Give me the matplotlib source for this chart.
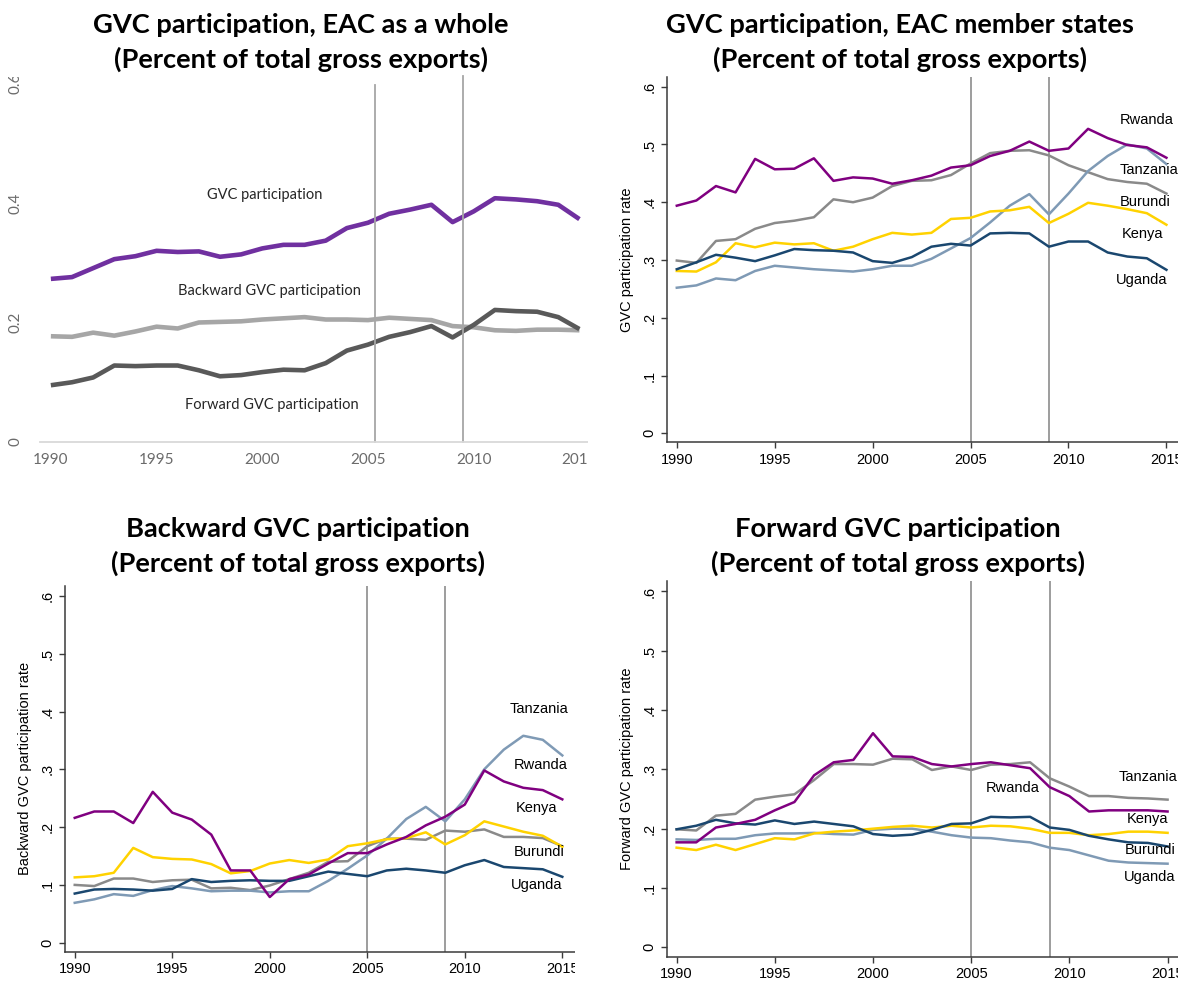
import matplotlib
matplotlib.use("Agg")
import matplotlib.pyplot as plt
from matplotlib.patches import Rectangle

# ----------------------------------------------------------------------
# Data
# ----------------------------------------------------------------------
years = list(range(1990, 2016))

# EAC as a whole
eac_gvc = [0.273, 0.276, 0.291, 0.306, 0.311, 0.320, 0.318, 0.319, 0.310, 0.314,
           0.324, 0.330, 0.330, 0.337, 0.358, 0.367, 0.382, 0.389, 0.397, 0.368,
           0.386, 0.408, 0.406, 0.403, 0.397, 0.373]
eac_backward = [0.177, 0.176, 0.183, 0.178, 0.185, 0.193, 0.190, 0.200, 0.201, 0.202,
                0.205, 0.207, 0.209, 0.205, 0.205, 0.204, 0.208, 0.206, 0.204, 0.194,
                0.192, 0.187, 0.186, 0.188, 0.188, 0.187]
eac_forward = [0.095, 0.100, 0.108, 0.128, 0.127, 0.128, 0.128, 0.120, 0.110, 0.112,
               0.117, 0.121, 0.120, 0.132, 0.153, 0.163, 0.176, 0.184, 0.194, 0.175,
               0.196, 0.221, 0.219, 0.218, 0.209, 0.189]
eac_labels = ["GVC participation", "Backward GVC participation", "Forward GVC participation"]

# member states, total GVC participation
tot_rwanda = [0.394, 0.403, 0.428, 0.417, 0.475, 0.457, 0.458, 0.476, 0.437, 0.443,
              0.441, 0.432, 0.438, 0.446, 0.460, 0.464, 0.480, 0.489, 0.505, 0.489,
              0.493, 0.527, 0.511, 0.499, 0.495, 0.477]
tot_burundi = [0.299, 0.295, 0.333, 0.336, 0.354, 0.364, 0.368, 0.374, 0.405, 0.400,
               0.408, 0.428, 0.437, 0.438, 0.447, 0.467, 0.485, 0.489, 0.490, 0.481,
               0.464, 0.452, 0.440, 0.435, 0.432, 0.415]
tot_kenya = [0.281, 0.280, 0.296, 0.329, 0.322, 0.330, 0.327, 0.329, 0.316, 0.323,
             0.336, 0.347, 0.344, 0.347, 0.371, 0.373, 0.384, 0.386, 0.392, 0.364,
             0.380, 0.399, 0.394, 0.388, 0.381, 0.361]
tot_uganda = [0.284, 0.296, 0.309, 0.304, 0.298, 0.308, 0.319, 0.317, 0.316, 0.313,
              0.298, 0.295, 0.305, 0.323, 0.328, 0.325, 0.346, 0.347, 0.346, 0.323,
              0.332, 0.332, 0.313, 0.306, 0.303, 0.283]
tot_tanzania = [0.252, 0.256, 0.268, 0.265, 0.281, 0.290, 0.287, 0.284, 0.282, 0.280,
                0.284, 0.290, 0.290, 0.302, 0.320, 0.338, 0.365, 0.394, 0.414, 0.379,
                0.415, 0.454, 0.480, 0.500, 0.493, 0.466]

# member states, backward participation
bwd_rwanda = [0.216, 0.227, 0.227, 0.207, 0.261, 0.225, 0.213, 0.187, 0.125, 0.125,
              0.079, 0.110, 0.118, 0.137, 0.155, 0.155, 0.170, 0.183, 0.203, 0.218,
              0.239, 0.298, 0.279, 0.268, 0.264, 0.248]
bwd_tanzania = [0.069, 0.075, 0.084, 0.081, 0.091, 0.098, 0.094, 0.089, 0.090, 0.090,
                0.087, 0.089, 0.089, 0.107, 0.128, 0.151, 0.180, 0.214, 0.235, 0.210,
                0.248, 0.300, 0.334, 0.358, 0.351, 0.324]
bwd_kenya = [0.113, 0.115, 0.121, 0.164, 0.148, 0.145, 0.144, 0.136, 0.120, 0.124,
             0.137, 0.143, 0.138, 0.144, 0.167, 0.172, 0.179, 0.181, 0.191, 0.170,
             0.186, 0.210, 0.201, 0.192, 0.185, 0.166]
bwd_burundi = [0.100, 0.098, 0.111, 0.111, 0.105, 0.108, 0.109, 0.094, 0.095, 0.091,
               0.099, 0.110, 0.121, 0.140, 0.141, 0.167, 0.180, 0.180, 0.178, 0.194,
               0.192, 0.196, 0.183, 0.183, 0.181, 0.167]
bwd_uganda = [0.085, 0.092, 0.093, 0.092, 0.090, 0.093, 0.110, 0.105, 0.107, 0.108,
              0.107, 0.107, 0.115, 0.123, 0.119, 0.115, 0.125, 0.128, 0.125, 0.121,
              0.134, 0.143, 0.131, 0.129, 0.127, 0.114]

# member states, forward participation
fwd_rwanda = [0.177, 0.177, 0.202, 0.208, 0.215, 0.231, 0.245, 0.290, 0.312, 0.316,
              0.361, 0.322, 0.321, 0.309, 0.305, 0.309, 0.312, 0.307, 0.302, 0.270,
              0.255, 0.229, 0.231, 0.231, 0.231, 0.229]
fwd_burundi = [0.199, 0.197, 0.222, 0.225, 0.249, 0.254, 0.258, 0.282, 0.309, 0.309,
               0.308, 0.318, 0.317, 0.299, 0.305, 0.299, 0.308, 0.309, 0.312, 0.285,
               0.271, 0.255, 0.255, 0.252, 0.251, 0.249]
fwd_uganda = [0.199, 0.205, 0.215, 0.209, 0.207, 0.214, 0.208, 0.212, 0.208, 0.204,
              0.191, 0.188, 0.190, 0.198, 0.208, 0.209, 0.220, 0.219, 0.220, 0.202,
              0.198, 0.188, 0.182, 0.177, 0.176, 0.170]
fwd_kenya = [0.168, 0.164, 0.173, 0.164, 0.174, 0.184, 0.182, 0.192, 0.195, 0.197,
             0.200, 0.203, 0.205, 0.202, 0.205, 0.202, 0.205, 0.204, 0.200, 0.193,
             0.193, 0.189, 0.191, 0.195, 0.195, 0.193]
fwd_tanzania = [0.182, 0.181, 0.183, 0.183, 0.189, 0.192, 0.192, 0.193, 0.191, 0.190,
                0.198, 0.200, 0.200, 0.195, 0.189, 0.185, 0.184, 0.180, 0.177, 0.168,
                0.164, 0.155, 0.146, 0.143, 0.142, 0.141]

countries = ["Rwanda", "Tanzania", "Burundi", "Kenya", "Uganda"]
stata_yticks = [0, 0.1, 0.2, 0.3, 0.4, 0.5, 0.6]
stata_yticklabels = ["0", ".1", ".2", ".3", ".4", ".5", ".6"]
excel_yticks = [0, 0.2, 0.4, 0.6]
excel_yticklabels = ["0", "0.2", "0.4", "0.6"]
xticks = [1990, 1995, 2000, 2005, 2010, 2015]

titles = [
    "GVC participation, EAC as a whole\n(Percent of total gross exports)",
    "GVC participation, EAC member states\n(Percent of total gross exports)",
    "Backward GVC participation\n(Percent of total gross exports)",
    "Forward GVC participation\n(Percent of total gross exports)",
]

# colours
C_PURPLE = "#800080"
C_GREY = "#8a8a8a"
C_GOLD = "#ffd200"
C_NAVY = "#1a476f"
C_LTBLUE = "#7f9ab5"

# ----------------------------------------------------------------------
# Figure
# ----------------------------------------------------------------------
W, H = 1189, 983
fig = plt.figure(figsize=(W / 100, H / 100), dpi=100)
fig.patch.set_facecolor("white")


def px_axes(left, top, right, bottom):
    return fig.add_axes([left / W, 1 - bottom / H, (right - left) / W, (bottom - top) / H])


# titles
title_font = dict(family="Lato", fontweight="bold", fontsize=19.6, color="black",
                  ha="center", va="baseline", zorder=5)
for (cx, base), t in zip([(301, 33), (900, 33), (298, 537), (898, 537)], titles):
    l1, l2 = t.split("\n")
    fig.text(cx / W, 1 - base / H, l1, **title_font)
    fig.text(cx / W, 1 - (base + 35) / H, l2, **title_font)

# --- Top-left: Excel style chart ---
ax = px_axes(40.3, 83.5, 590.0, 442)
ax.plot(years, eac_gvc, color="#7030a0", lw=3.3, solid_capstyle="butt")
ax.plot(years, eac_backward, color="#a6a6a6", lw=3.3, solid_capstyle="butt")
ax.plot(years, eac_forward, color="#595959", lw=3.3, solid_capstyle="butt")
ax.set_xlim(1989.5, 2015.5)
ax.set_ylim(0, 0.6)
for s in ["top", "right", "left"]:
    ax.spines[s].set_visible(False)
ax.spines["bottom"].set_color("#d9d9d9")
ax.spines["bottom"].set_linewidth(1.3)
ax.set_xticks(xticks)
ax.set_xticklabels([str(y) for y in xticks], family="Lato", fontsize=11, color="#6b6b6b")
ax.set_yticks(excel_yticks)
ax.set_yticklabels(excel_yticklabels, family="Lato", fontsize=11, color="#6b6b6b",
                   rotation=90, va="center")
ax.tick_params(axis="x", length=0, pad=8)
ax.tick_params(axis="y", length=0, pad=13)
ax.axvline(2005.33, ymin=0, ymax=0.598 / 0.6, color="#a6a6a6", lw=1.3, clip_on=False)
ax.axvline(2009.47, ymin=0, ymax=0.612 / 0.6, color="#a6a6a6", lw=1.3, clip_on=False)
lab_font = dict(family="Lato", fontsize=10.5, color="#262626", ha="center", va="center")
ax.text(2000.12, 0.413, eac_labels[0], **lab_font)
ax.text(2000.35, 0.253, eac_labels[1], **lab_font)
ax.text(2000.45, 0.062, eac_labels[2], **lab_font)


# --- Stata style panels ---
def stata_axes(left, right, y0_px, unit_px, ylabel):
    ylo, yhi = -0.0156, 0.6175
    top = y0_px - yhi * unit_px
    bottom = y0_px - ylo * unit_px
    a = px_axes(left, top, right, bottom)
    a.set_xlim(1989.5, 2016)
    a.set_ylim(ylo, yhi)
    for s in ["top", "right"]:
        a.spines[s].set_visible(False)
    for s in ["left", "bottom"]:
        a.spines[s].set_color("#3a3a3a")
        a.spines[s].set_linewidth(1.1)
    a.set_xticks(xticks)
    a.set_xticklabels([str(y) for y in xticks], family="Liberation Sans", fontsize=10.5)
    a.set_yticks(stata_yticks)
    a.set_yticklabels(stata_yticklabels, family="Liberation Sans", fontsize=10.5,
                      rotation=90, va="center")
    a.tick_params(axis="both", direction="out", length=4.5, width=1.0, color="#3a3a3a", pad=3)
    a.set_ylabel(ylabel, family="Liberation Sans", fontsize=10.5, labelpad=6)
    a.axvline(2005, color="#8c8c8c", lw=1.2, zorder=1)
    a.axvline(2009, color="#8c8c8c", lw=1.2, zorder=1)
    return a


stata_font = dict(family="Liberation Sans", fontsize=10.5, ha="center", va="center")
LW = 1.8

# top-right
ax = stata_axes(667, 1186, 433.3, 577.7, "GVC participation rate")
ax.plot(years, tot_burundi, color=C_GREY, lw=LW)
ax.plot(years, tot_tanzania, color=C_LTBLUE, lw=LW)
ax.plot(years, tot_kenya, color=C_GOLD, lw=LW)
ax.plot(years, tot_uganda, color=C_NAVY, lw=LW)
ax.plot(years, tot_rwanda, color=C_PURPLE, lw=LW)
for name, (x, y) in zip(countries, [(2014.0, 0.542), (2014.1, 0.456), (2013.9, 0.400),
                                    (2013.8, 0.345), (2013.75, 0.265)]):
    ax.text(x, y, name, **stata_font)

# bottom-left
ax = stata_axes(65, 581.8, 942.7, 578.0, "Backward GVC participation rate")
ax.plot(years, bwd_burundi, color=C_GREY, lw=LW)
ax.plot(years, bwd_tanzania, color=C_LTBLUE, lw=LW)
ax.plot(years, bwd_kenya, color=C_GOLD, lw=LW)
ax.plot(years, bwd_uganda, color=C_NAVY, lw=LW)
ax.plot(years, bwd_rwanda, color=C_PURPLE, lw=LW)
for name, (x, y) in zip(["Tanzania", "Rwanda", "Kenya", "Burundi", "Uganda"],
                        [(2013.8, 0.404), (2013.9, 0.307), (2013.7, 0.233),
                         (2013.8, 0.157), (2013.7, 0.099)]):
    ax.text(x, y, name, **stata_font)

# bottom-right
ax = stata_axes(666.8, 1187.2, 947.3, 593.0, "Forward GVC participation rate")
ax.plot(years, fwd_burundi, color=C_GREY, lw=LW)
ax.plot(years, fwd_tanzania, color=C_LTBLUE, lw=LW)
ax.plot(years, fwd_kenya, color=C_GOLD, lw=LW)
ax.plot(years, fwd_uganda, color=C_NAVY, lw=LW)
ax.plot(years, fwd_rwanda, color=C_PURPLE, lw=LW)
for name, (x, y) in zip(["Tanzania", "Rwanda", "Kenya", "Burundi", "Uganda"],
                        [(2014.0, 0.287), (2007.1, 0.269), (2014.0, 0.216),
                         (2014.1, 0.164), (2014.1, 0.119)]):
    ax.text(x, y, name, **stata_font)


# the source images are cropped at their right edges
def white_box(x0, y0, x1, y1):
    fig.add_artist(Rectangle((x0 / W, 1 - y1 / H), (x1 - x0) / W, (y1 - y0) / H,
                             transform=fig.transFigure, facecolor="white",
                             edgecolor="none", zorder=2))


white_box(588, 60, 612, 482)
white_box(575, 585, 612, 983)
white_box(1178, 60, 1189, 983)
white_box(0, 0, 32, 77)

fig.savefig("out.png", dpi=100, facecolor="white")
